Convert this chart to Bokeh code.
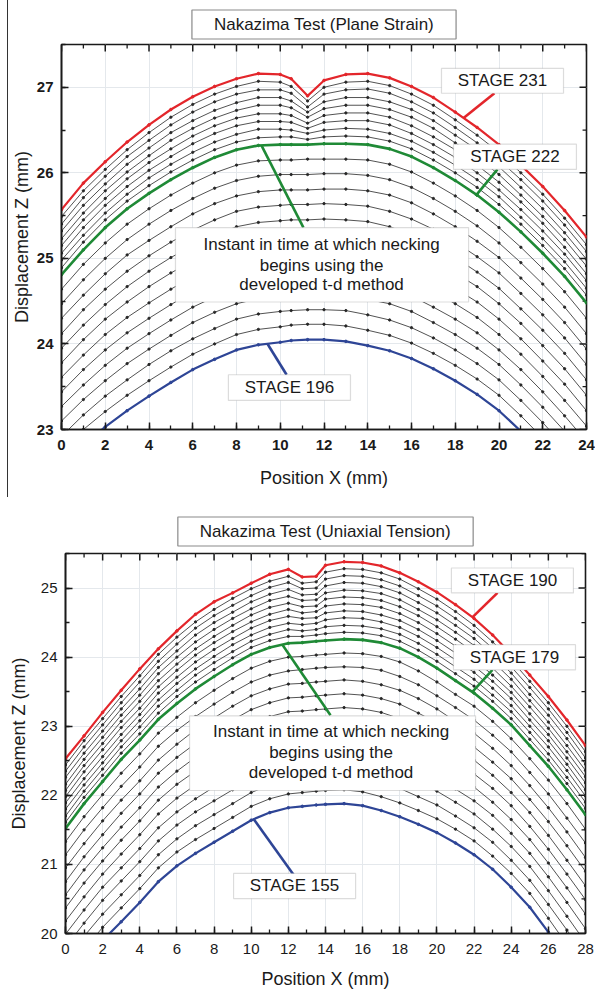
from bokeh.plotting import figure
from bokeh.models import Range1d, SingleIntervalTicker, BoxAnnotation, Label, Title, Div
from bokeh.layouts import column, row
from bokeh.embed import file_html
from bokeh.resources import INLINE

FONT = "Liberation Sans"
RED = "#e3262b"
GREEN = "#1f8a36"
BLUE = "#2e4596"
INK = "#1a1a1a"

# ---------------- data: plane strain (stage curves, Z in mm) ----------------
X_PS = [0, 1, 2, 3, 4, 5, 6, 7, 8, 9, 10, 10.5, 11.25, 12, 13, 14, 15, 16, 17, 18, 19, 20, 21, 22, 23, 24]
PS_231 = [25.57, 25.88, 26.13, 26.36, 26.56, 26.74, 26.89, 27.01, 27.10, 27.16, 27.15, 27.10, 26.90, 27.08, 27.15, 27.16, 27.11, 27.01, 26.88, 26.71, 26.53, 26.33, 26.09, 25.84, 25.56, 25.25]
PS_230 = [25.49, 25.79, 26.04, 26.27, 26.47, 26.65, 26.80, 26.92, 27.01, 27.07, 27.06, 27.01, 26.84, 27.00, 27.06, 27.07, 27.02, 26.92, 26.79, 26.62, 26.44, 26.24, 26.00, 25.75, 25.47, 25.16]
PS_229 = [25.40, 25.71, 25.96, 26.19, 26.38, 26.56, 26.71, 26.83, 26.92, 26.97, 26.97, 26.93, 26.77, 26.92, 26.97, 26.98, 26.93, 26.83, 26.70, 26.53, 26.35, 26.15, 25.92, 25.67, 25.39, 25.08]
PS_228 = [25.32, 25.62, 25.87, 26.10, 26.29, 26.47, 26.61, 26.73, 26.82, 26.88, 26.88, 26.84, 26.71, 26.83, 26.88, 26.88, 26.83, 26.74, 26.61, 26.44, 26.27, 26.07, 25.83, 25.58, 25.30, 24.99]
PS_227 = [25.23, 25.53, 25.79, 26.01, 26.20, 26.38, 26.52, 26.64, 26.73, 26.79, 26.79, 26.76, 26.65, 26.75, 26.79, 26.79, 26.74, 26.65, 26.52, 26.35, 26.18, 25.98, 25.74, 25.49, 25.22, 24.91]
PS_226 = [25.15, 25.45, 25.70, 25.93, 26.12, 26.28, 26.43, 26.55, 26.64, 26.69, 26.69, 26.67, 26.58, 26.67, 26.70, 26.70, 26.65, 26.55, 26.42, 26.27, 26.09, 25.89, 25.66, 25.41, 25.13, 24.82]
PS_225 = [25.06, 25.36, 25.62, 25.84, 26.03, 26.19, 26.34, 26.46, 26.55, 26.60, 26.60, 26.59, 26.52, 26.59, 26.61, 26.61, 26.56, 26.46, 26.33, 26.18, 26.00, 25.80, 25.57, 25.32, 25.05, 24.74]
PS_224 = [24.98, 25.27, 25.53, 25.75, 25.94, 26.10, 26.24, 26.36, 26.45, 26.51, 26.51, 26.50, 26.46, 26.50, 26.52, 26.51, 26.46, 26.37, 26.24, 26.09, 25.92, 25.72, 25.48, 25.23, 24.96, 24.65]
PS_223 = [24.89, 25.19, 25.45, 25.67, 25.85, 26.01, 26.15, 26.27, 26.36, 26.41, 26.42, 26.42, 26.39, 26.42, 26.43, 26.42, 26.37, 26.28, 26.15, 26.00, 25.83, 25.63, 25.40, 25.15, 24.88, 24.57]
PS_222 = [24.81, 25.10, 25.36, 25.58, 25.76, 25.92, 26.06, 26.18, 26.27, 26.32, 26.33, 26.33, 26.33, 26.34, 26.34, 26.33, 26.28, 26.19, 26.06, 25.91, 25.74, 25.54, 25.31, 25.06, 24.79, 24.48]
PS_220 = [24.64, 24.93, 25.18, 25.40, 25.58, 25.74, 25.88, 26.00, 26.09, 26.14, 26.15, 26.15, 26.16, 26.16, 26.16, 26.15, 26.10, 26.01, 25.88, 25.73, 25.56, 25.36, 25.13, 24.88, 24.61, 24.30]
PS_218 = [24.47, 24.75, 25.00, 25.22, 25.40, 25.56, 25.70, 25.82, 25.91, 25.96, 25.98, 25.98, 25.98, 25.99, 25.99, 25.97, 25.92, 25.83, 25.70, 25.55, 25.38, 25.18, 24.95, 24.70, 24.43, 24.12]
PS_216 = [24.30, 24.57, 24.82, 25.04, 25.21, 25.37, 25.52, 25.64, 25.73, 25.78, 25.80, 25.80, 25.80, 25.81, 25.81, 25.79, 25.74, 25.65, 25.52, 25.37, 25.20, 25.01, 24.77, 24.52, 24.25, 23.94]
PS_214 = [24.12, 24.40, 24.64, 24.85, 25.03, 25.19, 25.33, 25.45, 25.55, 25.60, 25.62, 25.63, 25.63, 25.64, 25.63, 25.61, 25.55, 25.46, 25.34, 25.19, 25.02, 24.83, 24.59, 24.34, 24.07, 23.76]
PS_212 = [23.95, 24.22, 24.46, 24.67, 24.85, 25.01, 25.15, 25.27, 25.37, 25.42, 25.44, 25.45, 25.45, 25.46, 25.45, 25.43, 25.37, 25.28, 25.16, 25.01, 24.84, 24.65, 24.41, 24.16, 23.89, 23.58]
PS_210 = [23.78, 24.05, 24.29, 24.49, 24.67, 24.83, 24.97, 25.09, 25.19, 25.25, 25.26, 25.27, 25.28, 25.28, 25.27, 25.25, 25.19, 25.10, 24.98, 24.83, 24.67, 24.47, 24.24, 23.98, 23.71, 23.40]
PS_208 = [23.61, 23.87, 24.11, 24.31, 24.48, 24.64, 24.79, 24.91, 25.01, 25.07, 25.09, 25.10, 25.10, 25.11, 25.10, 25.07, 25.01, 24.92, 24.80, 24.65, 24.49, 24.29, 24.06, 23.80, 23.53, 23.22]
PS_206 = [23.44, 23.70, 23.93, 24.13, 24.30, 24.46, 24.61, 24.73, 24.83, 24.89, 24.91, 24.92, 24.93, 24.93, 24.92, 24.88, 24.83, 24.74, 24.61, 24.47, 24.31, 24.11, 23.88, 23.62, 23.34, 23.04]
PS_204 = [23.27, 23.52, 23.75, 23.95, 24.12, 24.28, 24.43, 24.55, 24.65, 24.71, 24.73, 24.75, 24.75, 24.76, 24.74, 24.70, 24.65, 24.56, 24.43, 24.29, 24.13, 23.93, 23.70, 23.44, 23.16, 22.86]
PS_202 = [23.10, 23.35, 23.57, 23.77, 23.94, 24.10, 24.25, 24.37, 24.47, 24.53, 24.55, 24.57, 24.58, 24.58, 24.56, 24.52, 24.47, 24.38, 24.25, 24.11, 23.95, 23.76, 23.52, 23.26, 22.98, 22.68]
PS_200 = [22.92, 23.17, 23.39, 23.58, 23.76, 23.92, 24.06, 24.18, 24.29, 24.35, 24.38, 24.39, 24.40, 24.40, 24.39, 24.34, 24.28, 24.19, 24.07, 23.93, 23.77, 23.58, 23.34, 23.08, 22.80, 22.50]
PS_198 = [22.75, 23.00, 23.21, 23.40, 23.57, 23.73, 23.88, 24.00, 24.11, 24.17, 24.20, 24.22, 24.23, 24.23, 24.21, 24.16, 24.10, 24.01, 23.89, 23.75, 23.59, 23.40, 23.16, 22.90, 22.62, 22.32]
PS_196 = [22.58, 22.82, 23.03, 23.22, 23.39, 23.55, 23.70, 23.82, 23.93, 23.99, 24.02, 24.04, 24.05, 24.05, 24.03, 23.98, 23.92, 23.83, 23.71, 23.57, 23.41, 23.22, 22.98, 22.72, 22.44, 22.14]
PS_BLACK = [PS_230, PS_229, PS_228, PS_227, PS_226, PS_225, PS_224, PS_223,
            PS_220, PS_218, PS_216, PS_214, PS_212, PS_210, PS_208, PS_206, PS_204, PS_202, PS_200, PS_198]
PS_XMAJ = [0, 2, 4, 6, 8, 10, 12, 14, 16, 18, 20, 22, 24]
PS_XMIN = [1, 3, 5, 7, 9, 11, 13, 15, 17, 19, 21, 23]
PS_YMAJ = [23, 24, 25, 26, 27]
PS_YMIN = [23.5, 24.5, 25.5, 26.5]

# ---------------- data: uniaxial tension (stage curves, Z in mm) ----------------
X_UT = [0, 1, 2, 3, 4, 5, 6, 7, 8, 9, 10, 11, 12, 12.75, 13.5, 14, 15, 16, 17, 18, 19, 20, 21, 22, 23, 24, 25, 26, 27, 28]
UT_190 = [22.53, 22.86, 23.20, 23.52, 23.83, 24.12, 24.38, 24.62, 24.80, 24.93, 25.07, 25.20, 25.27, 25.16, 25.17, 25.33, 25.38, 25.37, 25.32, 25.22, 25.09, 24.94, 24.76, 24.56, 24.32, 24.04, 23.74, 23.43, 23.09, 22.72]
UT_189 = [22.44, 22.79, 23.11, 23.43, 23.73, 24.04, 24.29, 24.51, 24.69, 24.85, 24.99, 25.10, 25.17, 25.07, 25.09, 25.23, 25.28, 25.27, 25.22, 25.13, 24.99, 24.84, 24.66, 24.46, 24.22, 23.96, 23.65, 23.34, 23.00, 22.63]
UT_188 = [22.35, 22.70, 23.02, 23.34, 23.64, 23.94, 24.19, 24.42, 24.60, 24.75, 24.89, 25.01, 25.08, 24.99, 25.00, 25.13, 25.18, 25.17, 25.12, 25.03, 24.89, 24.74, 24.56, 24.36, 24.13, 23.86, 23.56, 23.25, 22.91, 22.54]
UT_187 = [22.26, 22.61, 22.93, 23.25, 23.54, 23.85, 24.09, 24.32, 24.50, 24.65, 24.80, 24.91, 24.98, 24.90, 24.91, 25.03, 25.08, 25.07, 25.02, 24.93, 24.79, 24.64, 24.46, 24.27, 24.03, 23.77, 23.46, 23.16, 22.82, 22.45]
UT_186 = [22.16, 22.52, 22.84, 23.16, 23.45, 23.76, 24.00, 24.22, 24.40, 24.56, 24.70, 24.82, 24.88, 24.82, 24.83, 24.93, 24.97, 24.96, 24.92, 24.83, 24.69, 24.54, 24.36, 24.17, 23.94, 23.68, 23.37, 23.06, 22.72, 22.36]
UT_185 = [22.07, 22.43, 22.75, 23.07, 23.36, 23.66, 23.90, 24.12, 24.30, 24.46, 24.61, 24.72, 24.78, 24.73, 24.74, 24.84, 24.87, 24.86, 24.82, 24.73, 24.60, 24.44, 24.26, 24.07, 23.84, 23.58, 23.28, 22.97, 22.63, 22.27]
UT_184 = [21.98, 22.34, 22.66, 22.98, 23.26, 23.57, 23.81, 24.03, 24.21, 24.37, 24.51, 24.62, 24.69, 24.64, 24.66, 24.74, 24.77, 24.76, 24.72, 24.63, 24.50, 24.34, 24.16, 23.97, 23.74, 23.49, 23.18, 22.88, 22.54, 22.18]
UT_183 = [21.89, 22.24, 22.56, 22.88, 23.17, 23.48, 23.71, 23.93, 24.11, 24.27, 24.42, 24.53, 24.59, 24.56, 24.57, 24.64, 24.67, 24.66, 24.61, 24.53, 24.40, 24.24, 24.06, 23.87, 23.65, 23.40, 23.09, 22.79, 22.45, 22.08]
UT_182 = [21.80, 22.15, 22.47, 22.79, 23.08, 23.38, 23.62, 23.83, 24.01, 24.18, 24.32, 24.43, 24.49, 24.47, 24.49, 24.54, 24.57, 24.56, 24.51, 24.43, 24.30, 24.14, 23.96, 23.78, 23.55, 23.30, 23.00, 22.70, 22.36, 21.99]
UT_181 = [21.70, 22.06, 22.38, 22.70, 22.99, 23.29, 23.52, 23.74, 23.92, 24.08, 24.23, 24.33, 24.40, 24.38, 24.40, 24.44, 24.46, 24.45, 24.41, 24.33, 24.20, 24.04, 23.86, 23.68, 23.45, 23.21, 22.91, 22.60, 22.26, 21.90]
UT_180 = [21.61, 21.97, 22.29, 22.61, 22.89, 23.19, 23.43, 23.64, 23.82, 23.99, 24.14, 24.24, 24.30, 24.30, 24.32, 24.34, 24.36, 24.35, 24.31, 24.23, 24.10, 23.94, 23.76, 23.58, 23.36, 23.11, 22.81, 22.51, 22.17, 21.81]
UT_179 = [21.52, 21.88, 22.20, 22.52, 22.80, 23.10, 23.33, 23.54, 23.72, 23.89, 24.04, 24.14, 24.20, 24.21, 24.23, 24.24, 24.26, 24.25, 24.21, 24.13, 24.00, 23.84, 23.66, 23.48, 23.26, 23.02, 22.72, 22.42, 22.08, 21.72]
UT_177 = [21.33, 21.69, 22.01, 22.32, 22.60, 22.90, 23.13, 23.34, 23.52, 23.69, 23.84, 23.94, 24.00, 24.01, 24.03, 24.04, 24.06, 24.05, 24.01, 23.93, 23.80, 23.64, 23.46, 23.29, 23.07, 22.82, 22.53, 22.22, 21.88, 21.51]
UT_175 = [21.14, 21.50, 21.82, 22.13, 22.41, 22.71, 22.94, 23.14, 23.32, 23.49, 23.64, 23.74, 23.80, 23.82, 23.84, 23.85, 23.86, 23.85, 23.81, 23.72, 23.60, 23.44, 23.27, 23.09, 22.87, 22.63, 22.33, 22.02, 21.67, 21.31]
UT_173 = [20.95, 21.30, 21.63, 21.93, 22.21, 22.51, 22.74, 22.95, 23.12, 23.29, 23.44, 23.54, 23.61, 23.62, 23.64, 23.65, 23.67, 23.65, 23.60, 23.52, 23.40, 23.25, 23.07, 22.90, 22.68, 22.43, 22.14, 21.82, 21.47, 21.10]
UT_171 = [20.75, 21.11, 21.43, 21.74, 22.02, 22.32, 22.55, 22.75, 22.92, 23.09, 23.24, 23.34, 23.41, 23.42, 23.44, 23.45, 23.47, 23.45, 23.40, 23.32, 23.19, 23.05, 22.88, 22.70, 22.48, 22.24, 21.94, 21.62, 21.27, 20.90]
UT_169 = [20.56, 20.92, 21.24, 21.54, 21.82, 22.12, 22.35, 22.55, 22.72, 22.89, 23.04, 23.14, 23.21, 23.22, 23.24, 23.25, 23.27, 23.25, 23.20, 23.11, 22.99, 22.85, 22.68, 22.51, 22.29, 22.04, 21.75, 21.42, 21.06, 20.69]
UT_167 = [20.37, 20.73, 21.05, 21.35, 21.63, 21.93, 22.16, 22.35, 22.52, 22.69, 22.84, 22.95, 23.01, 23.03, 23.05, 23.06, 23.07, 23.05, 23.00, 22.91, 22.79, 22.65, 22.49, 22.31, 22.10, 21.85, 21.55, 21.22, 20.86, 20.49]
UT_165 = [20.18, 20.53, 20.86, 21.15, 21.43, 21.73, 21.96, 22.15, 22.32, 22.48, 22.64, 22.75, 22.81, 22.83, 22.85, 22.86, 22.87, 22.85, 22.79, 22.71, 22.59, 22.45, 22.29, 22.12, 21.90, 21.65, 21.36, 21.02, 20.66, 20.28]
UT_163 = [19.99, 20.34, 20.67, 20.95, 21.23, 21.53, 21.76, 21.95, 22.12, 22.28, 22.44, 22.55, 22.61, 22.63, 22.65, 22.66, 22.67, 22.65, 22.59, 22.50, 22.39, 22.25, 22.09, 21.92, 21.71, 21.45, 21.16, 20.82, 20.45, 20.07]
UT_161 = [19.80, 20.15, 20.48, 20.76, 21.04, 21.34, 21.57, 21.76, 21.92, 22.08, 22.24, 22.35, 22.42, 22.43, 22.45, 22.46, 22.48, 22.45, 22.39, 22.30, 22.19, 22.06, 21.90, 21.73, 21.51, 21.26, 20.97, 20.62, 20.25, 19.87]
UT_159 = [19.60, 19.96, 20.28, 20.56, 20.84, 21.14, 21.37, 21.56, 21.72, 21.88, 22.04, 22.15, 22.22, 22.24, 22.26, 22.27, 22.28, 22.25, 22.19, 22.10, 21.98, 21.86, 21.70, 21.53, 21.32, 21.06, 20.77, 20.42, 20.05, 19.66]
UT_157 = [19.41, 19.76, 20.09, 20.37, 20.65, 20.95, 21.18, 21.36, 21.52, 21.68, 21.84, 21.95, 22.02, 22.04, 22.06, 22.07, 22.08, 22.05, 21.98, 21.89, 21.78, 21.66, 21.51, 21.34, 21.12, 20.87, 20.58, 20.22, 19.84, 19.46]
UT_155 = [19.22, 19.57, 19.90, 20.17, 20.45, 20.75, 20.98, 21.16, 21.32, 21.48, 21.64, 21.75, 21.82, 21.84, 21.86, 21.87, 21.88, 21.85, 21.78, 21.69, 21.58, 21.46, 21.31, 21.14, 20.93, 20.67, 20.38, 20.02, 19.64, 19.25]
UT_BLACK = [UT_189, UT_188, UT_187, UT_186, UT_185, UT_184, UT_183, UT_182, UT_181, UT_180,
            UT_177, UT_175, UT_173, UT_171, UT_169, UT_167, UT_165, UT_163, UT_161, UT_159, UT_157]
UT_XMAJ = [0, 2, 4, 6, 8, 10, 12, 14, 16, 18, 20, 22, 24, 26, 28]
UT_XMIN = [1, 3, 5, 7, 9, 11, 13, 15, 17, 19, 21, 23, 25, 27]
UT_YMAJ = [20, 21, 22, 23, 24, 25]
UT_YMIN = [20.5, 21.5, 22.5, 23.5, 24.5, 25.5]


def style_axis(ax, bold):
    ax.axis_line_color = INK
    ax.axis_line_width = 1.6
    ax.major_tick_line_color = INK
    ax.minor_tick_line_color = INK
    ax.major_tick_line_width = 1.5
    ax.minor_tick_line_width = 1.3
    ax.major_tick_in = 7
    ax.major_tick_out = 0
    ax.minor_tick_in = 4
    ax.minor_tick_out = 0
    ax.major_label_text_font = FONT
    ax.major_label_text_color = INK
    ax.major_label_text_font_size = "15px"
    ax.major_label_text_font_style = "bold" if bold else "normal"
    ax.axis_label_text_font = FONT
    ax.axis_label_text_font_style = "normal"
    ax.axis_label_text_font_size = "18px"
    ax.axis_label_text_color = INK


def make_panel(title, width, height, borders, xr, yr, bold, ylab_standoff, xlab_standoff, title_standoff, ticks):
    left, right, top, bottom = borders
    p = figure(width=width, height=height, x_range=Range1d(*xr), y_range=Range1d(*yr),
               output_backend="svg", toolbar_location=None,
               min_border_left=left, min_border_right=right,
               min_border_top=top, min_border_bottom=bottom,
               x_axis_label="Position X (mm)", y_axis_label="Displacement Z (mm)")
    p.background_fill_color = "white"
    p.border_fill_color = "white"
    p.outline_line_color = INK
    p.outline_line_width = 1.6
    xt = SingleIntervalTicker(interval=2, num_minor_ticks=2)
    yt = SingleIntervalTicker(interval=1, num_minor_ticks=2)
    p.xaxis.ticker = xt
    p.yaxis.ticker = yt
    p.xgrid.ticker = xt
    p.ygrid.ticker = yt
    p.xgrid.grid_line_color = "#e4e8ec"
    p.ygrid.grid_line_color = "#e4e8ec"
    style_axis(p.xaxis[0], bold)
    style_axis(p.yaxis[0], bold)
    p.xaxis[0].major_label_standoff = 10
    p.yaxis[0].major_label_standoff = 8
    p.xaxis[0].axis_label_standoff = xlab_standoff
    p.yaxis[0].axis_label_standoff = ylab_standoff
    # inward ticks on the top and right frame edges
    xmaj, xmin, ymaj, ymin, (dx_maj, dx_min, dy_maj, dy_min) = ticks
    x0, x1 = xr
    y0, y1 = yr
    p.segment(x0=xmaj, x1=xmaj, y0=[y1] * len(xmaj), y1=[y1 - dy_maj] * len(xmaj), line_color=INK, line_width=1.5)
    p.segment(x0=xmin, x1=xmin, y0=[y1] * len(xmin), y1=[y1 - dy_min] * len(xmin), line_color=INK, line_width=1.3)
    p.segment(x0=[x1] * len(ymaj), x1=[x1 - dx_maj] * len(ymaj), y0=ymaj, y1=ymaj, line_color=INK, line_width=1.5)
    p.segment(x0=[x1] * len(ymin), x1=[x1 - dx_min] * len(ymin), y0=ymin, y1=ymin, line_color=INK, line_width=1.3)
    p.title = Title(text=title, align="center", text_font=FONT, text_font_size="17px",
                    text_font_style="normal", text_color=INK,
                    background_fill_color="white", border_line_color="#8a8a8a",
                    border_line_width=1.2, padding=dict(left=22, right=22, top=5, bottom=5),
                    standoff=title_standoff)
    return p


def curve(p, xs, ys, color, lw, ms):
    p.line(xs, ys, line_color=color, line_width=lw)
    p.scatter(xs, ys, size=ms, color=color, marker="circle")


def note_box(p, l, r, t, b):
    p.add_layout(BoxAnnotation(left=l, right=r, top=t, bottom=b, fill_color="white", fill_alpha=1.0,
                               line_color="#8a8a8a", line_width=1.2, level="overlay"))


def note_text(p, x, y, text):
    p.add_layout(Label(x=x, y=y, text=text, text_align="center", text_baseline="middle",
                       text_font=FONT, text_font_size="17px", text_color=INK, level="overlay"))


def leader(p, xs, ys, color):
    p.line(xs, ys, line_color=color, line_width=2.6)


# ---------- top panel ----------
p1 = make_panel("Nakazima Test (Plane Strain)", 587, 500, (53, 9, 44, 71), (0, 24), (23, 27.5), True,
                2, 15, 11, (PS_XMAJ, PS_XMIN, PS_YMAJ, PS_YMIN, (0.32, 0.18, 0.082, 0.047)))
for ys in PS_BLACK:
    curve(p1, X_PS, ys, "#262626", 0.8, 2.3)
curve(p1, X_PS, PS_196, BLUE, 2.2, 2.6)
curve(p1, X_PS, PS_222, GREEN, 2.6, 2.6)
curve(p1, X_PS, PS_231, RED, 2.2, 2.6)
leader(p1, [18.38, 19.79], [26.64, 26.93], RED)
leader(p1, [18.93, 19.93], [25.73, 26.04], GREEN)
leader(p1, [9.14, 11.06], [26.32, 25.36], GREEN)
leader(p1, [9.42, 10.29], [24.00, 23.64], BLUE)
note_box(p1, 17.37, 22.95, 27.22, 26.93)
note_text(p1, 20.16, 27.075, "STAGE 231")
note_box(p1, 17.92, 23.54, 26.335, 26.04)
note_text(p1, 20.73, 26.19, "STAGE 222")
note_box(p1, 7.63, 13.21, 23.64, 23.34)
note_text(p1, 10.42, 23.49, "STAGE 196")
note_box(p1, 5.21, 18.61, 25.36, 24.49)
note_text(p1, 11.89, 25.16, "Instant in time at which necking")
note_text(p1, 11.89, 24.92, "begins using the")
note_text(p1, 11.89, 24.69, "developed t-d method")

# ---------- bottom panel ----------
p2 = make_panel("Nakazima Test (Uniaxial Tension)", 595, 491, (65, 10, 53, 57), (0, 28), (20, 25.5), False,
                9, 12, 15, (UT_XMAJ, UT_XMIN, UT_YMAJ, UT_YMIN, (0.377, 0.215, 0.101, 0.058)))
for ys in UT_BLACK:
    curve(p2, X_UT, ys, "#262626", 0.8, 2.3)
curve(p2, X_UT, UT_155, BLUE, 2.2, 2.6)
curve(p2, X_UT, UT_179, GREEN, 2.6, 2.6)
curve(p2, X_UT, UT_190, RED, 2.2, 2.6)
leader(p2, [21.92, 23.26], [24.58, 24.93], RED)
leader(p2, [21.92, 22.99], [23.50, 23.815], GREEN)
leader(p2, [11.68, 14.27], [24.18, 23.16], GREEN)
leader(p2, [10.12, 12.28], [21.66, 20.85], BLUE)
note_box(p2, 20.78, 27.35, 25.29, 24.93)
note_text(p2, 24.07, 25.11, "STAGE 190")
note_box(p2, 20.89, 27.46, 24.18, 23.815)
note_text(p2, 24.18, 24.0, "STAGE 179")
note_box(p2, 9.05, 15.62, 20.87, 20.506)
note_text(p2, 12.33, 20.69, "STAGE 155")
note_box(p2, 6.68, 22.08, 23.15, 22.07)
note_text(p2, 14.3, 22.92, "Instant in time at which necking")
note_text(p2, 14.3, 22.62, "begins using the")
note_text(p2, 14.3, 22.33, "developed t-d method")

vline = Div(text="", width=1, height=497, margin=(0, 0, 0, 7), styles={"background-color": "#333333"})
layout = column(row(vline, p1, spacing=0), p2, spacing=0)
open("out.html", "w").write(file_html(layout, INLINE))
